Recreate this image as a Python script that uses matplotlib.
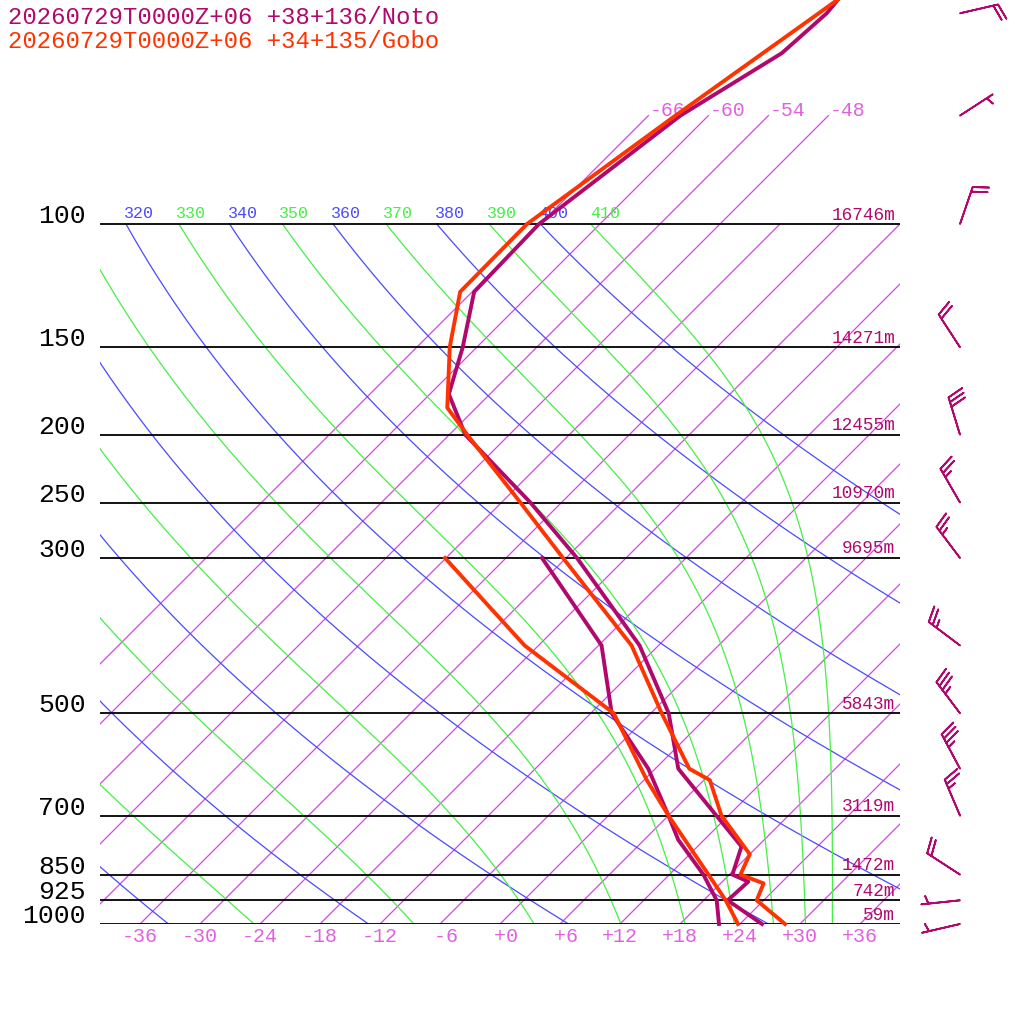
import numpy as np
import matplotlib
matplotlib.use("Agg")
import matplotlib.pyplot as plt
from matplotlib.transforms import offset_copy

# ---------------- data ----------------
title_noto = "20260729T0000Z+06 +38+136/Noto"
title_gobo = "20260729T0000Z+06 +34+135/Gobo"

# Noto (purple) temperature / dewpoint profiles
noto_temp_p = [1000, 925, 870, 850, 775, 600, 500, 400, 300, 250, 200, 175, 150, 125, 100, 70, 57, 50, 40]
noto_temp_t = [26.2, 20.4, 20.6, 18.3, 16.4, 2.3, -4.2, -13.9, -28.9, -39.1, -52.4, -58.1, -61.4, -65.8, -66.1, -62.8, -58.9, -58.4, -59.6]
noto_dew_p = [1000, 925, 850, 758, 700, 600, 500, 400, 300]
noto_dew_t = [21.9, 19.3, 15.4, 9.4, 6.0, -0.7, -9.9, -17.7, -32.4]

# Gobo (red) temperature / dewpoint profiles
gobo_temp_p = [1000, 925, 875, 850, 795, 700, 623, 600, 500, 400, 300, 250, 200, 183, 150, 125, 100, 70, 50, 40]
gobo_temp_t = [28.5, 23.3, 22.3, 19.1, 18.0, 11.3, 6.6, 3.4, -4.9, -14.7, -30.3, -40.1, -52.2, -56.9, -62.7, -67.2, -67.3, -63.3, -59.2, -56.6]
gobo_dew_p = [1000, 925, 850, 700, 623, 500, 400, 300]
gobo_dew_t = [23.8, 20.2, 15.9, 6.0, 0.3, -9.7, -25.4, -42.1]

# wind barbs (Noto): pressure, direction (deg from), speed (kt)
wind_p = [50, 70, 100, 150, 200, 250, 300, 400, 500, 600, 700, 850, 925, 1000]
wind_dir = [77, 57, 19, 327, 343, 330, 323, 307, 323, 332, 337, 303, 264, 257]
wind_spd = [20, 5, 20, 20, 30, 25, 25, 25, 35, 35, 25, 20, 5, 5]

# isobars with heights
isobars = [1000, 925, 850, 700, 500, 300, 250, 200, 150, 100]
isobar_heights = ["59m", "742m", "1472m", "3119m", "5843m", "9695m", "10970m", "12455m", "14271m", "16746m"]

temp_ticks = [-36, -30, -24, -18, -12, -6, 0, 6, 12, 18, 24, 30, 36]
isotherms = [-66, -60, -54, -48, -42, -36, -30, -24, -18, -12, -6, 0, 6, 12, 18, 24, 30, 36]
isotherm_labelled = [-66, -60, -54, -48]
dry_thetas = [240, 260, 280, 300, 320, 340, 360, 380, 400]
moist_thetae = [250, 270, 290, 310, 330, 350, 370, 390, 410]
theta_labels = [310, 320, 330, 340, 350, 360, 370, 380, 390, 400, 410]

# ---------------- style ----------------
NOTO = "#b0086c"
GOBO = "#ff3300"
ISO = "#d846e8"
ISO_LAB = "#e060e0"
BLUE = "#4a4aff"
GREEN = "#44f044"
MONO = "Liberation Mono"
SKEW = 30.4
KAPPA = 0.2857


def skew_x(t, p):
    return np.asarray(t, dtype=float) + SKEW * np.log(1000.0 / np.asarray(p, dtype=float))


def theta_e(tc, p):
    tk = tc + 273.15
    es = 6.112 * np.exp(17.67 * tc / (tc + 243.5))
    r = 622.0 * es / np.maximum(p - es, 1e-6)
    r = np.minimum(r, 300.0)
    th = tk * (1000.0 / p) ** (0.2854 * (1 - 0.00028 * r))
    return th * np.exp((3.376 / tk - 0.00254) * r * (1 + 0.00081 * r))


def moist_t(the, p):
    lo = np.full_like(p, -140.0)
    hi = np.full_like(p, 45.0)
    for _ in range(60):
        mid = 0.5 * (lo + hi)
        f = theta_e(mid, p)
        above = f > the
        hi = np.where(above, mid, hi)
        lo = np.where(above, lo, mid)
    return 0.5 * (lo + hi)


fig = plt.figure(figsize=(10.24, 10.24), dpi=100)
ax = fig.add_axes([100 / 1024, 100 / 1024, 800 / 1024, 924 / 1024])
ax.set_yscale("log")
ax.set_xlim(-40, 40)
ax.set_ylim(1000, 1000 * np.exp(-924 / 304))
ax.axis("off")


def off(dx, dy):
    return offset_copy(ax.transData, fig=fig, x=dx, y=dy, units="dots")


# isotherms
for t in isotherms:
    ptop = 70 if t in isotherm_labelled else 100
    ps = np.array([1000.0, ptop])
    ax.plot(skew_x([t, t], ps), ps, color=ISO, lw=0.9, zorder=1)
for t in isotherm_labelled:
    ax.text(skew_x(t, 70), 70, f"{t}", transform=off(1, 5), ha="left", va="center",
            fontsize=14.3, family=MONO, color=ISO_LAB)

pgrid = np.geomspace(1000, 100, 300)
# dry adiabats
for th in dry_thetas:
    t = th * (pgrid / 1000.0) ** KAPPA - 273.15
    ax.plot(skew_x(t, pgrid), pgrid, color=BLUE, lw=0.9, zorder=1)
# moist adiabats
with np.errstate(all="ignore"):
    for the in moist_thetae:
        t = moist_t(float(the), pgrid)
        ax.plot(skew_x(t, pgrid), pgrid, color=GREEN, lw=0.9, zorder=1)

# theta labels on 100 hPa
for th in theta_labels:
    x = th * 0.1 ** KAPPA - 273.15 + SKEW * np.log(10)
    col = BLUE if (th // 10) % 2 == 0 else GREEN
    ax.text(x, 100, str(th), transform=off(-2, 11), ha="left", va="center",
            fontsize=12, family=MONO, color=col, clip_on=True)

# isobars
ax.hlines(isobars, -40, 40, colors="black", lw=1.3, zorder=2)
for p, h in zip(isobars, isobar_heights):
    ax.text(-41.4, p, str(p), transform=off(0, 8), ha="right", va="center",
            fontsize=19, family=MONO, color="black")
    ax.text(39.5, p, h, transform=off(0, 9), ha="right", va="center",
            fontsize=12.8, family=MONO, color=NOTO)

# bottom temperature labels
for t in temp_ticks:
    ax.text(t, 1000, f"{t:+d}".rjust(3), transform=off(0, -13), ha="center", va="center",
            fontsize=14.4, family=MONO, color=ISO_LAB)

# profiles
ax.plot(skew_x(noto_temp_t, noto_temp_p), noto_temp_p, color=NOTO, lw=2.8, clip_on=False, zorder=5)
ax.plot(skew_x(noto_dew_t, noto_dew_p), noto_dew_p, color=NOTO, lw=2.8, clip_on=False, zorder=5)
ax.plot(skew_x(gobo_temp_t, gobo_temp_p), gobo_temp_p, color=GOBO, lw=2.8, clip_on=False, zorder=6)
ax.plot(skew_x(gobo_dew_t, gobo_dew_p), gobo_dew_p, color=GOBO, lw=2.8, clip_on=False, zorder=6)

# wind barbs
d = np.radians(wind_dir)
spd = np.asarray(wind_spd, dtype=float)
u = -spd * np.sin(d)
v = -spd * np.cos(d)
ax.barbs(np.full(len(wind_p), 46.0), wind_p, u, v, length=7.5, pivot="tip",
         barbcolor=NOTO, flagcolor=NOTO, linewidth=1.3, clip_on=False, zorder=7,
         sizes=dict(emptybarb=0.0))

# titles
fig.text(8 / 1024, 1 - 17 / 1024, title_noto, ha="left", va="center", fontsize=17.2,
         family=MONO, color=NOTO)
fig.text(8 / 1024, 1 - 41 / 1024, title_gobo, ha="left", va="center", fontsize=17.2,
         family=MONO, color=GOBO)

fig.savefig("out.png", dpi=100, facecolor="white")
